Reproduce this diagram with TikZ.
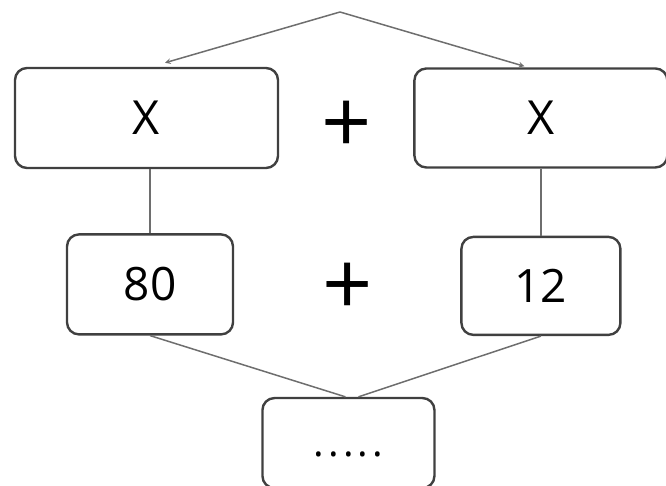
\documentclass[tikz,border=0pt]{standalone}
\usepackage{fontspec}
\setmainfont{Open Sans}
\usepackage{xcolor}
\usepackage{tikz}
\usetikzlibrary{arrows, positioning, calc}

\definecolor{boxline}{HTML}{404040}
\definecolor{linkgray}{HTML}{6E6E6E}

\begin{document}
\begin{tikzpicture}[x=1pt, y=1pt, >=stealth,
    numbox/.style={draw=boxline, line width=2.4pt, rectangle, rounded corners=12pt, inner sep=0pt},
    sign/.style={inner sep=0pt, font=\fontsize{88}{88}\selectfont},
    link/.style={draw=linkgray, line width=1.5pt}]
    \useasboundingbox (0,0) rectangle (666,486);

    \node (xl) [numbox, minimum width=263pt, minimum height=100pt, font=\fontsize{47}{56}\selectfont] at (146.5,368) {X};
    \node (xr) [numbox, minimum width=253pt, minimum height=99pt, font=\fontsize{47}{56}\selectfont, right=134pt of xl] {X};
    \node (n80) [numbox, minimum width=166pt, minimum height=100pt, font=\fontsize{46}{56}\selectfont, below=64pt of xl, xshift=3.5pt] {80};
    \node (n12) [numbox, minimum width=159pt, minimum height=98pt, font=\fontsize{46}{56}\selectfont, below=67pt of xr] {12};
    \node (sum) [numbox, minimum width=172pt, minimum height=90pt, text height=26pt, text depth=0pt, text=black,
        font=\fontsize{40}{40}\selectfont\addfontfeature{LetterSpace=10}, below=61pt of $(n80.south)!0.5!(n12.south)$, xshift=3pt] {.....};

    \node (plustop) [sign, yshift=-9pt] at ($(xl.east)!0.5!(xr.west)$) {+};
    \node (plusmid) [sign, yshift=-4pt] at ($(n80.east)!0.5!(n12.west)$) {+};

    \coordinate (apex) at (340,474);
    \draw [link, ->] (apex) -- ([xshift=18.5pt, yshift=4pt]xl.north);
    \draw [link, ->] (apex) -- ([xshift=-16.5pt, yshift=1pt]xr.north);
    \draw [link] (n80.north |- xl.south) -- (n80.north);
    \draw [link] (n12.north |- xr.south) -- (n12.north);
    \draw [link] (n80.south) -- ([xshift=-3pt]sum.north);
    \draw [link] (n12.south) -- ([xshift=10pt]sum.north);
\end{tikzpicture}
\end{document}
